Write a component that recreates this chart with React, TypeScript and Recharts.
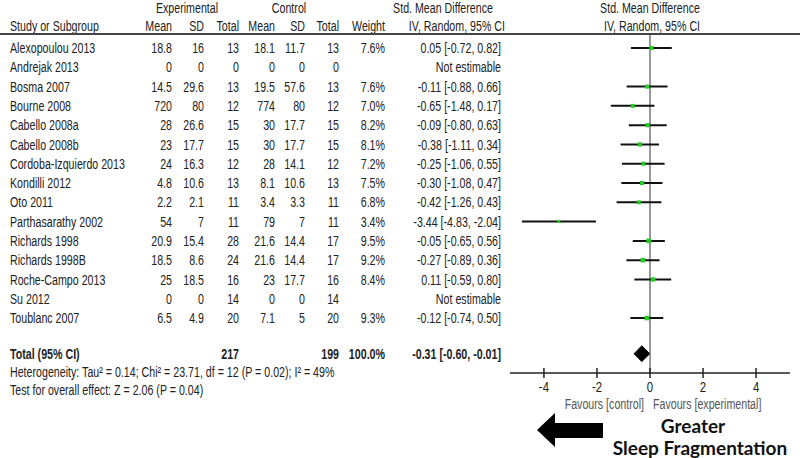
import React from "react";
import { ComposedChart, Scatter, XAxis, YAxis, ReferenceLine, Area } from "recharts";

const studies = [
  "Alexopoulou 2013", "Andrejak 2013", "Bosma 2007", "Bourne 2008", "Cabello 2008a",
  "Cabello 2008b", "Cordoba-Izquierdo 2013", "Kondilli 2012", "Oto 2011", "Parthasarathy 2002",
  "Richards 1998", "Richards 1998B", "Roche-Campo 2013", "Su 2012", "Toublanc 2007",
];
const expMean = [18.8, 0, 14.5, 720, 28, 23, 24, 4.8, 2.2, 54, 20.9, 18.5, 25, 0, 6.5];
const expSD = [16, 0, 29.6, 80, 26.6, 17.7, 16.3, 10.6, 2.1, 7, 15.4, 8.6, 18.5, 0, 4.9];
const expTotal = [13, 0, 13, 12, 15, 15, 12, 13, 11, 11, 28, 24, 16, 14, 20];
const ctlMean = [18.1, 0, 19.5, 774, 30, 30, 28, 8.1, 3.4, 79, 21.6, 21.6, 23, 0, 7.1];
const ctlSD = [11.7, 0, 57.6, 80, 17.7, 17.7, 14.1, 10.6, 3.3, 7, 14.4, 14.4, 17.7, 0, 5];
const ctlTotal = [13, 0, 13, 12, 15, 15, 12, 13, 11, 11, 17, 17, 16, 14, 20];
const weight = [7.6, null, 7.6, 7.0, 8.2, 8.1, 7.2, 7.5, 6.8, 3.4, 9.5, 9.2, 8.4, null, 9.3];
const smd = [0.05, null, -0.11, -0.65, -0.09, -0.38, -0.25, -0.3, -0.42, -3.44, -0.05, -0.27, 0.11, null, -0.12];
const ciLow = [-0.72, null, -0.88, -1.48, -0.8, -1.11, -1.06, -1.08, -1.26, -4.83, -0.65, -0.89, -0.59, null, -0.74];
const ciHigh = [0.82, null, 0.66, 0.17, 0.63, 0.34, 0.55, 0.47, 0.43, -2.04, 0.56, 0.36, 0.8, null, 0.5];

const totalExp = 217;
const totalCtl = 199;
const totalWeight = 100.0;
const totalSmd = -0.31;
const totalLow = -0.6;
const totalHigh = -0.01;

const xTicks = [-4, -2, 0, 2, 4];

// layout
const W = 800;
const H = 458;
const TOTAL_ROW = 15.85;
const DIAMOND_HALF = 0.41;
const FONT = "'Liberation Sans', Arial, sans-serif";
const NARROW = 0.735;
const TXT = "#222";
const COL_X = [172, 204, 239, 275, 305, 339, 385, 501];

const fmtCI = (m: number, lo: number, hi: number) =>
  `${m.toFixed(2)} [${lo.toFixed(2)}, ${hi.toFixed(2)}]`;

// condensed text (Arial Narrow look) via horizontal scale
const NText = ({ x, y, anchor = "start", size = 14.5, fill = TXT, bold = false, children }: any) => (
  <text
    transform={`translate(${x},${y}) scale(${NARROW},1)`}
    textAnchor={anchor}
    dy="0.35em"
    fontFamily={FONT}
    fontSize={size}
    fontWeight={bold ? "bold" : "normal"}
    fill={fill}
  >
    {children}
  </text>
);

const points = studies
  .map((_, i) => ({ x: smd[i], y: i, w: weight[i] }))
  .filter((p) => p.x !== null);

const diamond = [
  { x: totalLow, band: [TOTAL_ROW, TOTAL_ROW] },
  { x: totalSmd, band: [TOTAL_ROW - DIAMOND_HALF, TOTAL_ROW + DIAMOND_HALF] },
  { x: totalHigh, band: [TOTAL_ROW, TOTAL_ROW] },
];

const rowTicks = [...studies.map((_, i) => i), TOTAL_ROW];

const RowTick = (props: any) => {
  const v = props.payload.value;
  const y = props.y;
  if (v === TOTAL_ROW) {
    return (
      <g>
        <NText x={10} y={y} bold>Total (95% CI)</NText>
        <NText x={COL_X[2]} y={y} anchor="end" bold>{totalExp}</NText>
        <NText x={COL_X[5]} y={y} anchor="end" bold>{totalCtl}</NText>
        <NText x={COL_X[6]} y={y} anchor="end" bold>{totalWeight.toFixed(1)}%</NText>
        <NText x={COL_X[7]} y={y} anchor="end" bold>{fmtCI(totalSmd, totalLow, totalHigh)}</NText>
      </g>
    );
  }
  const i = v as number;
  const vals = [expMean[i], expSD[i], expTotal[i], ctlMean[i], ctlSD[i], ctlTotal[i]];
  const w = weight[i];
  const m = smd[i];
  return (
    <g>
      <NText x={10} y={y}>{studies[i]}</NText>
      {vals.map((val, k) => (
        <NText key={k} x={COL_X[k]} y={y} anchor="end">{String(val)}</NText>
      ))}
      {w !== null && <NText x={COL_X[6]} y={y} anchor="end">{w.toFixed(1)}%</NText>}
      <NText x={COL_X[7]} y={y} anchor="end">
        {m !== null ? fmtCI(m, ciLow[i] as number, ciHigh[i] as number) : "Not estimable"}
      </NText>
    </g>
  );
};

const XTick = (props: any) => {
  const { x, y, payload } = props;
  return (
    <g>
      <line x1={x} x2={x} y1={y - 5} y2={y + 5} stroke={TXT} strokeWidth={1.5} />
      <NText x={x} y={y + 14} anchor="middle" size={15.5}>{payload.value}</NText>
    </g>
  );
};

const GreenSquare = (props: any) => {
  const { cx, cy, payload } = props;
  const s = 2 + payload.w * 0.28;
  return <rect x={cx - s / 2} y={cy - s / 2} width={s} height={s} fill="#22cc22" />;
};

export default function App() {
  return (
    <div style={{ position: "absolute", left: 0, top: 0, width: W, height: H, background: "#fff" }}>
      <ComposedChart
        width={W}
        height={H}
        data={diamond}
        margin={{ top: 34, right: 10, bottom: 0, left: 0 }}
      >
        <XAxis
          type="number"
          dataKey="x"
          domain={[-5.28, 5.28]}
          ticks={xTicks}
          tickLine={false}
          tickSize={0}
          tickMargin={0}
          tick={<XTick />}
          height={85}
          axisLine={{ stroke: TXT, strokeWidth: 1.5 }}
          allowDataOverflow
        />
        <YAxis
          type="number"
          dataKey="y"
          domain={[-0.726, 16.85]}
          reversed
          ticks={rowTicks}
          interval={0}
          width={510}
          axisLine={false}
          tickLine={false}
          tick={<RowTick />}
          allowDataOverflow
        />
        <ReferenceLine x={0} stroke="#333" strokeWidth={1} />
        {points.map((p) => (
          <ReferenceLine
            key={p.y}
            segment={[{ x: ciLow[p.y] as number, y: p.y }, { x: ciHigh[p.y] as number, y: p.y }]}
            stroke="#111"
            strokeWidth={2}
          />
        ))}
        <Area
          type="linear"
          dataKey="band"
          stroke="#000"
          fill="#000"
          fillOpacity={1}
          isAnimationActive={false}
          dot={false}
          activeDot={false}
        />
        <Scatter data={points} shape={<GreenSquare />} isAnimationActive={false} />
      </ComposedChart>
      <svg width={W} height={H} style={{ position: "absolute", left: 0, top: 0, pointerEvents: "none" }}>
        <NText x={187} y={8} anchor="middle">Experimental</NText>
        <NText x={289} y={8} anchor="middle">Control</NText>
        <NText x={443} y={8} anchor="middle">Std. Mean Difference</NText>
        <NText x={650} y={8} anchor="middle">Std. Mean Difference</NText>
        <NText x={10} y={26}>Study or Subgroup</NText>
        {["Mean", "SD", "Total", "Mean", "SD", "Total", "Weight"].map((h, k) => (
          <NText key={k} x={COL_X[k]} y={26} anchor="end">{h}</NText>
        ))}
        <NText x={505} y={26} anchor="end">IV, Random, 95% CI</NText>
        <NText x={652} y={26} anchor="middle">IV, Random, 95% CI</NText>
        <line x1={0} x2={W} y1={34} y2={34} stroke="#444" strokeWidth={2} />
        <NText x={10} y={372}>
          Heterogeneity: Tau² = 0.14; Chi² = 23.71, df = 12 (P = 0.02); I² = 49%
        </NText>
        <NText x={10} y={390}>Test for overall effect: Z = 2.06 (P = 0.04)</NText>
        <NText x={644} y={404} anchor="end" fill="#555">Favours [control]</NText>
        <NText x={653} y={404} fill="#555">Favours [experimental]</NText>
        <polygon points="537,430 555,413 555,423 603,423 603,438 555,438 555,447" fill="#000" />
        <text x={693} y={425} textAnchor="middle" dominantBaseline="central" fontFamily="Lato, 'Open Sans', sans-serif" fontWeight="bold" fontSize={19} fill="#111">Greater</text>
        <text x={700} y={447} textAnchor="middle" dominantBaseline="central" fontFamily="Lato, 'Open Sans', sans-serif" fontWeight="bold" fontSize={19} fill="#111">Sleep Fragmentation</text>
      </svg>
    </div>
  );
}
